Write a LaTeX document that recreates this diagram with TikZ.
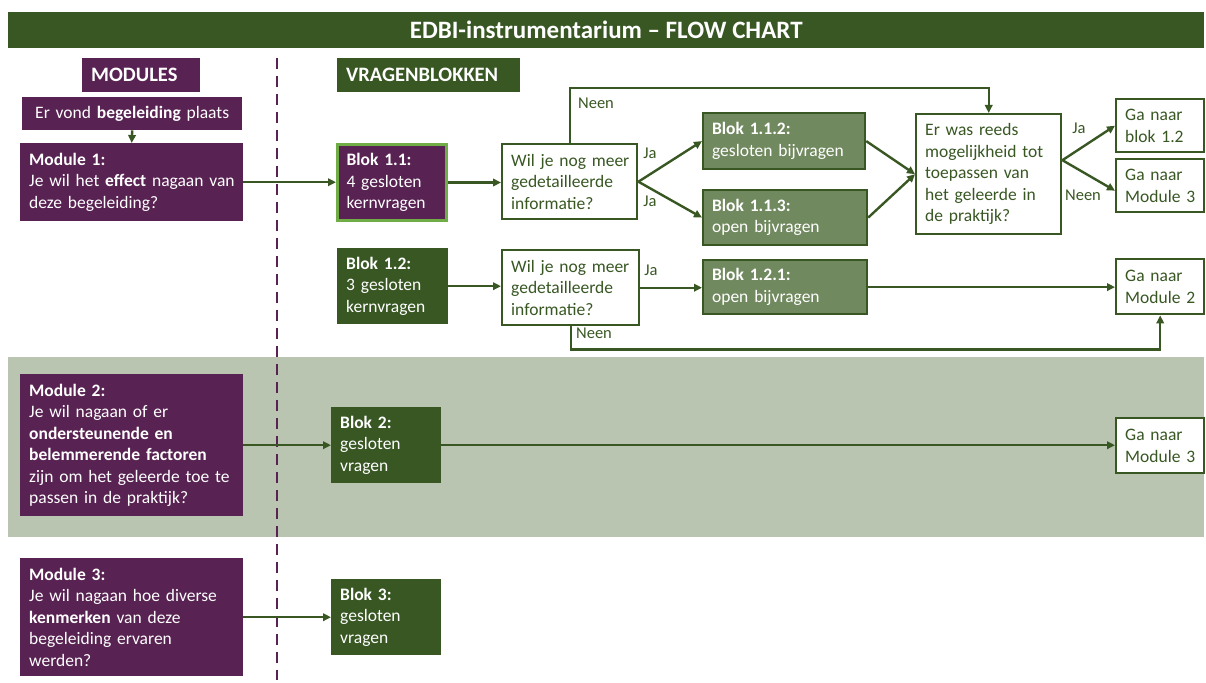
\documentclass[tikz,border=0pt]{standalone}
\usepackage{fontspec}
\setmainfont{Carlito}
\usetikzlibrary{arrows.meta}
\definecolor{purp}{RGB}{88,34,82}
\definecolor{dgreen}{RGB}{56,87,35}
\definecolor{mgreen}{RGB}{113,137,95}
\definecolor{band}{RGB}{185,197,177}
\definecolor{lgreen}{RGB}{112,173,71}
\begin{document}
\begin{tikzpicture}[x=1pt,y=-1pt,
  base/.style={anchor=north west, inner xsep=9pt, inner ysep=2pt, align=left,
    font=\fontsize{17.5}{21.5}\selectfont},
  wh/.code 2 args={\pgfmathsetmacro\mytw{#1-18}\edef\mynext{\noexpand\tikzset{minimum width=#1pt, text width=\mytw pt, minimum height=#2pt}}\mynext},
  pbox/.style={base, fill=purp, text=white},
  gbox/.style={base, fill=dgreen, text=white},
  mbox/.style={base, fill=mgreen, draw=dgreen, line width=2.2pt, text=white},
  wbox/.style={base, fill=white, draw=dgreen, line width=2.4pt, text=dgreen},
  hdr/.style={base, text=white, font=\bfseries\fontsize{20.5}{24}\selectfont},
  arr/.style={draw=dgreen, line width=2.4pt, -{Triangle[length=8pt,width=7.5pt]}},
  lbl/.style={font=\fontsize{16.5}{19}\selectfont, text=dgreen, inner sep=0pt}
]
\useasboundingbox (0,0) rectangle (1206,682);
% band
\fill[band] (8,357) rectangle (1204,537);
% divider
\draw[purp, line width=2.5pt, dash pattern=on 11pt off 7pt] (277,58) -- (277,680);
% title
\node[anchor=north west, fill=dgreen, minimum width=1196pt, minimum height=36pt, text=white,
  font=\bfseries\fontsize{25}{28}\selectfont] (title) at (8,12) {EDBI-instrumentarium – FLOW~CHART};
% headers
\node[hdr, fill=purp, wh={118}{34}] (hmod) at (82,58) {MODULES};
\node[hdr, fill=dgreen, wh={183}{34}] (hvr) at (337,58) {VRAGENBLOKKEN};
% modules
\node[pbox, wh={220}{33}, align=center] (e1) at (22,97) {Er~vond~\textbf{begeleiding}~plaats};
\node[pbox, wh={223}{78}] (m1) at (20,143) {\textbf{Module~1:}\\\mbox{Je wil het \textbf{effect} nagaan van}\\deze~begeleiding?};
\node[pbox, wh={223}{142}] (m2) at (20,374) {\textbf{Module~2:}\\Je~wil~nagaan~of~er\\\textbf{ondersteunende~en}\\\textbf{belemmerende~factoren}\\\mbox{zijn om het geleerde toe te}\\passen~in~de~praktijk?};
\node[pbox, wh={223}{118}] (m3) at (20,558) {\textbf{Module~3:}\\\mbox{Je wil nagaan hoe diverse}\\\textbf{kenmerken}~van~deze\\begeleiding~ervaren\\werden?};
% blocks
\node[pbox, draw=lgreen, line width=3pt, wh={109}{76}] (b11) at (336,143) {\textbf{Blok~1.1:}\\4~gesloten\\kernvragen};
\node[wbox, wh={135}{75}] (q1) at (501,143) {\mbox{Wil je nog meer}\\gedetailleerde\\informatie?};
\node[mbox, wh={162}{56}] (b112) at (702,112) {\textbf{Blok~1.1.2:}\\gesloten~bijvragen};
\node[mbox, wh={164}{55}] (b113) at (702,189) {\textbf{Blok~1.1.3:}\\open~bijvragen};
\node[wbox, wh={145}{120}] (q2) at (915,113) {Er~was~reeds\\\mbox{mogelijkheid tot}\\toepassen~van\\het~geleerde~in\\de~praktijk?};
\node[wbox, inner xsep=8pt, wh={88}{53}] (g12) at (1115,98) {Ga~naar\\blok~1.2};
\node[wbox, inner xsep=8pt, wh={88}{53}] (g3a) at (1115,158) {Ga~naar\\\mbox{Module 3}};
\node[gbox, wh={111}{76}] (b12) at (337,248) {\textbf{Blok~1.2:}\\3~gesloten\\kernvragen};
\node[wbox, wh={137}{75}] (q3) at (501,249) {\mbox{Wil je nog meer}\\gedetailleerde\\informatie?};
\node[mbox, wh={164}{54}] (b121) at (702,259) {\textbf{Blok~1.2.1:}\\open~bijvragen};
\node[wbox, inner xsep=8pt, wh={88}{55}] (gm2) at (1115,258) {Ga~naar\\\mbox{Module 2}};
\node[gbox, wh={110}{76}] (b2) at (331,407) {\textbf{Blok~2:}\\gesloten\\vragen};
\node[wbox, inner xsep=8pt, wh={88}{55}] (g3b) at (1115,417) {Ga~naar\\\mbox{Module 3}};
\node[gbox, wh={110}{76}] (b3) at (331,579) {\textbf{Blok~3:}\\gesloten\\vragen};
% connectors
\draw[arr] (e1.south) -- (m1.north);
\draw[arr] (m1.east) -- (m1.east -| b11.west);
\draw[arr] (b11.east) -- (b11.east -| q1.west);
\draw[arr] (q1.east) -- (b112.west);
\draw[arr] (q1.east) -- (b113.west);
\draw[arr] (q1.north) |- ([yshift=25pt]q2.north) -- (q2.north);
\draw[arr] (b112.east) -- (q2.west);
\draw[arr] (b113.east) -- (q2.west);
\coordinate (q2o) at ([yshift=14pt]q2.east);
\draw[arr] (q2o) -- (g12.west);
\draw[arr] (q2o) -- ([yshift=-5pt]g3a.west);
\draw[arr] (b12.east) -- (b12.east -| q3.west);
\draw[arr] (q3.east) -- (q3.east -| b121.west);
\draw[arr] (b121.east) -- (b121.east -| gm2.west);
\draw[arr] (q3.south) |- ([yshift=-34pt]gm2.south) -- (gm2.south);
\draw[arr] (m2.east) -- (m2.east -| b2.west);
\draw[arr] (b2.east) -- (b2.east -| g3b.west);
\draw[arr] (m3.east) -- (m3.east -| b3.west);
% labels
\node[lbl] (l1) at (650,153) {Ja};
\node[lbl] (l2) at (650,201) {Ja};
\node[lbl] (l3) at (596,103) {Neen};
\node[lbl] (l4) at (651,270) {Ja};
\node[lbl] (l5) at (594,333) {Neen};
\node[lbl] (l6) at (1079,128) {Ja};
\node[lbl] (l7) at (1083,195) {Neen};
\end{tikzpicture}
\end{document}
